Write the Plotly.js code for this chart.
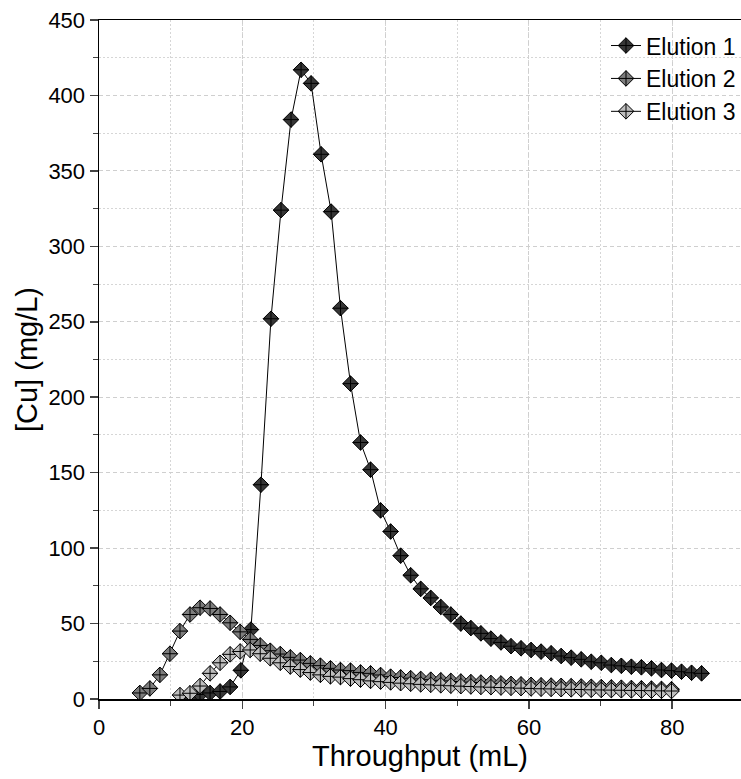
<!DOCTYPE html>
<html>
<head>
<meta charset="utf-8">
<script src="https://cdn.plot.ly/plotly-3.0.1.min.js"></script>
<style>html,body{margin:0;padding:0;background:#fff;}#chart{width:741px;height:779px;}</style>
</head>
<body>
<div id="chart"></div>
<script>
// Elution 1
const e1X = [12.7,14.1,15.5,16.9,18.3,19.8,21.2,22.6,24.0,25.4,26.8,28.2,29.6,31.0,32.4,33.7,35.1,36.5,37.9,39.3,40.7,42.1,43.5,44.9,46.3,47.7,49.1,50.5,51.9,53.3,54.7,56.1,57.5,58.9,60.3,61.7,63.1,64.5,65.9,67.3,68.7,70.1,71.5,72.9,74.3,75.7,77.1,78.5,79.9,81.3,82.7,84.1];
const e1Y = [2,3,4,5,8,19,46,142,252,324,384,417,408,361,323,259,209,170,152,125,111,95,82,73,67,61,56,50,47,43.5,40,37.5,35,33.6,32.5,31.4,30.3,28.5,27.4,26.3,24.7,24,22.5,22,21.4,21,20.3,19.2,18.8,18.1,17.4,17];
// Elution 2
const e2X = [5.7,7.1,8.5,9.9,11.3,12.7,14.1,15.5,16.9,18.3,19.7,21.1,22.5,23.9,25.3,26.7,28.1,29.5,30.9,32.3,33.7,35.1,36.5,37.9,39.3,40.7,42.1,43.5,44.9,46.3,47.7,49.1,50.5,51.9,53.3,54.7,56.1,57.5,58.9,60.3,61.7,63.1,64.5,65.9,67.3,68.7,70.1,71.5,72.9,74.3,75.7,77.1,78.5,79.9];
const e2Y = [4,7,16,30,45,56,60.5,60,56,50.5,44.5,39.5,35.5,32,29.8,27.6,25.8,23.6,22.1,20.3,19.2,18.8,17.6,17,15.9,14.8,14.3,13.8,13.3,12.8,12.4,12,11.6,11.2,10.9,10.6,10.3,10,9.7,9.4,9.1,8.9,8.7,8.5,8.3,8.1,7.9,7.7,7.5,7.3,7.1,6.9,6.7,6.5];
// Elution 3
const e3X = [11.3,12.7,14.1,15.5,16.9,18.3,19.7,21.1,22.5,23.9,25.3,26.7,28.1,29.5,30.9,32.3,33.7,35.1,36.5,37.9,39.3,40.7,42.1,43.5,44.9,46.3,47.7,49.1,50.5,51.9,53.3,54.7,56.1,57.5,58.9,60.3,61.7,63.1,64.5,65.9,67.3,68.7,70.1,71.5,72.9,74.3,75.7,77.1,78.5,79.9];
const e3Y = [2.6,3.8,8.6,17,24,29.6,31.5,32.5,30,27,24,21.5,19.5,17.5,16,15,14.5,13.5,12.8,12,11.5,11,10.5,10.1,9.7,9.4,9.1,8.8,8.5,8.3,8,7.8,7.6,7.4,7.2,7,6.8,6.7,6.5,6.4,6.3,6.1,6,5.9,5.8,5.7,5.6,5.5,5.4,5.3];

const names = ["Elution 1","Elution 2","Elution 3"];
const fills = ["#363636","#7d7d7d","#bebebe"];
const xs = [e1X,e2X,e3X], ys = [e1Y,e2Y,e3Y];

const traces = names.map((n,i)=>({
  x: xs[i], y: ys[i], name: n, type: 'scatter', mode: 'lines+markers',
  line: {color: '#000', width: 1},
  marker: {symbol: 'diamond-cross', size: 12, color: fills[i], line: {color: '#000', width: 1}}
}));

const font = "Liberation Sans, Arial, sans-serif";
const layout = {
  width: 741, height: 779,
  margin: {l: 99, r: 0, t: 20, b: 80},
  paper_bgcolor: '#fff', plot_bgcolor: '#fff',
  font: {family: font, color: '#000', size: 22},
  showlegend: true,
  legend: {x: 1, xanchor: 'right', y: 0.994, yanchor: 'top', bgcolor: 'rgba(0,0,0,0)',
           font: {size: 23, family: font}, tracegroupgap: 0},
  xaxis: {
    range: [0, 89.6], tickvals: [0,20,40,60,80], ticks: 'outside', ticklen: 8, tickwidth: 1.5,
    showline: true, linewidth: 1.5, linecolor: '#000', mirror: true, zeroline: false,
    showgrid: true, gridcolor: '#cfcfcf', gridwidth: 1, griddash: '4px,3px',
    tickfont: {size: 22},
    minor: {dtick: 10, ticks: 'outside', ticklen: 5, tickwidth: 1, showgrid: true, gridcolor: '#d6d6d6', griddash: '2px,2px'},
    title: {text: 'Throughput (mL)', font: {size: 29}, standoff: 4}
  },
  yaxis: {
    range: [0, 450], dtick: 50, ticks: 'outside', ticklen: 8, tickwidth: 1.5,
    showline: true, linewidth: 1.5, linecolor: '#000', mirror: true, zeroline: false,
    showgrid: true, gridcolor: '#cfcfcf', gridwidth: 1, griddash: '4px,3px',
    tickfont: {size: 22},
    minor: {dtick: 25, ticks: 'outside', ticklen: 5, tickwidth: 1, showgrid: true, gridcolor: '#d6d6d6', griddash: '2px,2px'},
    title: {text: '[Cu] (mg/L)', font: {size: 29}, standoff: 2}
  }
};

Plotly.newPlot('chart', traces, layout, {displayModeBar: false, staticPlot: true});
</script>
</body>
</html>
